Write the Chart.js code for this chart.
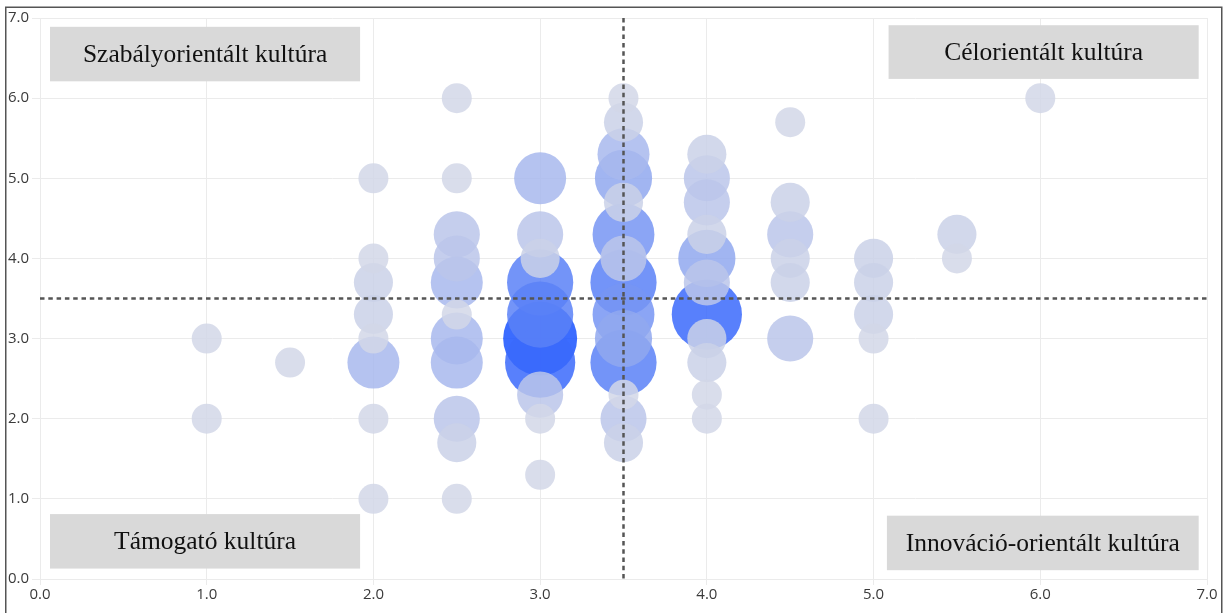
<!DOCTYPE html>
<html>
<head>
<meta charset="utf-8">
<script src="https://cdn.jsdelivr.net/npm/chart.js@4.4.1/dist/chart.umd.min.js"></script>
<style>
  html, body { margin: 0; padding: 0; background: #fff; }
</style>
</head>
<body>
<canvas id="chart" width="1225" height="613"></canvas>
<script>
// bubble positions (x, y) and how many answers fall on each point
const xValues = [
  1.0, 1.0, 1.5,
  2.0, 2.0, 2.0, 2.0, 2.0, 2.0, 2.0, 2.0,
  2.5, 2.5, 2.5, 2.5, 2.5, 2.5, 2.5, 2.5, 2.5, 2.5, 2.5,
  3.0, 3.0, 3.0, 3.0, 3.0, 3.0, 3.0, 3.0, 3.0, 3.0,
  3.5, 3.5, 3.5, 3.5, 3.5, 3.5, 3.5, 3.5, 3.5, 3.5, 3.5, 3.5, 3.5, 3.5,
  4.0, 4.0, 4.0, 4.0, 4.0, 4.0, 4.0, 4.0, 4.0, 4.0, 4.0,
  4.5, 4.5, 4.5, 4.5, 4.5, 4.5,
  5.0, 5.0, 5.0, 5.0, 5.0,
  5.5, 5.5,
  6.0
];
const yValues = [
  3.0, 2.0, 2.7,
  5.0, 4.0, 3.7, 3.3, 3.0, 2.7, 2.0, 1.0,
  6.0, 5.0, 4.3, 4.0, 3.7, 3.3, 3.0, 2.7, 2.0, 1.7, 1.0,
  5.0, 4.3, 4.0, 3.7, 3.3, 3.0, 2.7, 2.3, 2.0, 1.3,
  6.0, 5.7, 5.3, 5.0, 4.7, 4.3, 4.0, 3.7, 3.3, 3.0, 2.7, 2.3, 2.0, 1.7,
  5.3, 5.0, 4.7, 4.3, 4.0, 3.7, 3.3, 3.0, 2.7, 2.3, 2.0,
  5.7, 4.7, 4.3, 4.0, 3.7, 3.0,
  4.0, 3.7, 3.3, 3.0, 2.0,
  4.3, 4.0,
  6.0
];
const counts = [
  1, 1, 1,
  1, 1, 2, 2, 1, 4, 1, 1,
  1, 1, 3, 3, 4, 1, 4, 4, 3, 2, 1,
  4, 3, 2, 7, 7, 9, 8, 3, 1, 1,
  1, 2, 4, 5, 2, 6, 3, 7, 6, 5, 7, 1, 3, 2,
  2, 3, 3, 2, 5, 3, 8, 2, 2, 1, 1,
  1, 2, 3, 2, 2, 3,
  2, 2, 2, 1, 1,
  2, 1,
  1
];
const tickValues = [0, 1, 2, 3, 4, 5, 6, 7];
const quadrantLabels = [
  'Szabályorientált kultúra',
  'Célorientált kultúra',
  'Támogató kultúra',
  'Innováció-orientált kultúra'
];
const midX = 3.5;
const midY = 3.5;

const maxCount = Math.max(...counts);
const lightRgb = [210, 215, 231];
const darkRgb = [25, 82, 255];

function radiusFor(n) {
  return 4 + 11 * Math.sqrt(n);
}
function colorFor(n) {
  const t = Math.pow((n - 1) / (maxCount - 1), 1.5);
  const c = lightRgb.map((v, i) => Math.round(v + (darkRgb[i] - v) * t));
  return `rgba(${c[0]}, ${c[1]}, ${c[2]}, 0.85)`;
}

// big bubbles first so the small ones stay on top
const order = counts.map((_, i) => i).sort((a, b) => counts[b] - counts[a]);
const points = order.map(i => ({ x: xValues[i], y: yValues[i], r: radiusFor(counts[i]) }));
const colors = order.map(i => colorFor(counts[i]));

const quadrantPlugin = {
  id: 'quadrants',
  beforeDraw(chart) {
    const ctx = chart.ctx;
    ctx.save();
    ctx.fillStyle = '#fff';
    ctx.fillRect(0, 0, chart.width, chart.height);
    ctx.restore();
  },
  afterDatasetsDraw(chart) {
    const { ctx, chartArea } = chart;
    const xs = chart.scales.x, ys = chart.scales.y;

    // dashed cross through the middle
    const px = xs.getPixelForValue(midX);
    const py = ys.getPixelForValue(midY);
    ctx.save();
    ctx.strokeStyle = '#555';
    ctx.lineWidth = 2.5;
    ctx.setLineDash([4.5, 3.8]);
    ctx.beginPath();
    ctx.moveTo(px, chartArea.top);
    ctx.lineTo(px, chartArea.bottom);
    ctx.moveTo(chartArea.left, py);
    ctx.lineTo(chartArea.right, py);
    ctx.stroke();
    ctx.restore();

    // gray label boxes in the four corners
    const boxes = [
      [0.06, 1.92, 6.89, 6.21],
      [5.09, 6.95, 6.91, 6.24],
      [0.06, 1.92, 0.81, 0.13],
      [5.08, 6.95, 0.79, 0.11]
    ];
    ctx.save();
    ctx.font = '25.5px "Liberation Serif", "Times New Roman", serif';
    ctx.textAlign = 'center';
    ctx.textBaseline = 'middle';
    boxes.forEach((b, i) => {
      const x1 = xs.getPixelForValue(b[0]);
      const x2 = xs.getPixelForValue(b[1]);
      const y1 = ys.getPixelForValue(b[2]);
      const y2 = ys.getPixelForValue(b[3]);
      ctx.fillStyle = '#d9d9d9';
      ctx.fillRect(x1, y1, x2 - x1, y2 - y1);
      ctx.fillStyle = '#111';
      ctx.fillText(quadrantLabels[i], (x1 + x2) / 2, (y1 + y2) / 2 + 1);
    });
    ctx.restore();
  },
  afterDraw(chart) {
    const ctx = chart.ctx;
    ctx.save();
    ctx.strokeStyle = '#555';
    ctx.lineWidth = 1.5;
    ctx.strokeRect(5.75, 7.25, 1216, 700);
    ctx.restore();
  }
};

const tickFont = { family: '"Open Sans", "Noto Sans", sans-serif', size: 15 };

new Chart(document.getElementById('chart'), {
  type: 'bubble',
  data: {
    datasets: [{
      data: points,
      backgroundColor: colors,
      borderWidth: 0,
      hoverBorderWidth: 0
    }]
  },
  options: {
    responsive: false,
    animation: false,
    layout: { autoPadding: false, padding: { top: 18, right: 18, left: 0, bottom: 0 } },
    plugins: {
      legend: { display: false },
      tooltip: { enabled: false }
    },
    scales: {
      x: {
        type: 'linear',
        min: 0,
        max: 7,
        afterBuildTicks: scale => { scale.ticks = tickValues.map(v => ({ value: v })); },
        afterFit: scale => { scale.height = 34; },
        grid: { color: '#ebebeb', tickLength: 6, tickColor: '#ebebeb' },
        border: { color: '#ebebeb' },
        ticks: {
          padding: 1,
          color: '#3a3a3a',
          font: tickFont,
          maxRotation: 0,
          callback: v => Number(v).toFixed(1)
        }
      },
      y: {
        type: 'linear',
        min: 0,
        max: 7,
        afterBuildTicks: scale => { scale.ticks = tickValues.map(v => ({ value: v })); },
        afterFit: scale => { scale.width = 40; },
        grid: { color: '#ebebeb', tickLength: 8, tickColor: '#ebebeb' },
        border: { color: '#ebebeb' },
        ticks: {
          padding: 3,
          color: '#3a3a3a',
          font: tickFont,
          callback: v => Number(v).toFixed(1)
        }
      }
    }
  },
  plugins: [quadrantPlugin]
});
</script>
</body>
</html>
